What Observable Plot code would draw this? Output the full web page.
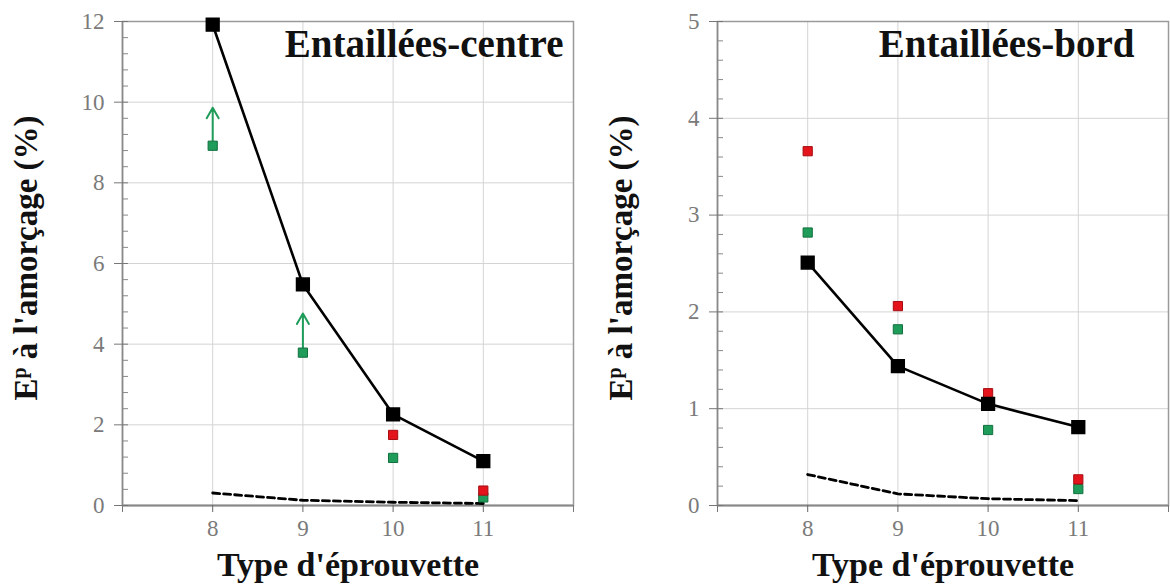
<!DOCTYPE html>
<html><head><meta charset="utf-8">
<script src="https://cdn.jsdelivr.net/npm/d3@7"></script>
<script src="https://cdn.jsdelivr.net/npm/@observablehq/plot@0.6"></script>
<style>
body{margin:0;background:#fff;}
#wrap{display:flex;width:1170px;height:586px;overflow:hidden;}
#wrap svg text{font-family:'Liberation Serif','Times New Roman',serif !important;}
</style></head><body><div id="wrap"></div>
<script>
// Type d'éprouvette (x categories)
const types = [8, 9, 10, 11];
// Entaillées-centre panel
const centreBlack  = [11.92, 5.48, 2.26, 1.10];
const centreRed    = [null, null, 1.75, 0.37];
const centreGreen  = [8.92, 3.79, 1.18, 0.20];
const centreArrow  = [9.86, 4.76, null, null];
const centreDashed = [0.31, 0.13, 0.08, 0.05];
const centreYTicks = [0, 2, 4, 6, 8, 10, 12];
// Entaillées-bord panel
const bordBlack  = [2.51, 1.44, 1.05, 0.81];
const bordRed    = [3.66, 2.06, 1.16, 0.27];
const bordGreen  = [2.82, 1.82, 0.78, 0.17];
const bordDashed = [0.32, 0.12, 0.07, 0.05];
const bordYTicks = [0, 1, 2, 3, 4, 5];
// texts
const titles = ["Entaillées-centre", "Entaillées-bord"];
const xTitle = "Type d'éprouvette";
const yTitleMain = "E", yTitleSup = "p", yTitleRest = " à l'amorçage (%)";

const SERIF = "'Liberation Serif', 'Times New Roman', serif";
const RED = "#e3141c", RED_D = "#a80d12";
const GREEN = "#1f9b5a", GREEN_D = "#12703e";
const fmt = d => `${d}`;

function panel(o) {
  const rows = arr => types.map((t, i) => ({x: t, y: arr[i]})).filter(d => d.y != null);
  const arrows = o.arrow ? types.map((t, i) => ({x: t, y1: o.green[i], y2: o.arrow[i]})).filter(d => d.y2 != null) : [];
  const step = o.yTicks[1] - o.yTicks[0];
  const minor = d3.range(0, o.yTicks[o.yTicks.length - 1] + 1e-9, step / 5)
    .filter(v => Math.abs(v / step - Math.round(v / step)) > 1e-6);
  const yMax = o.yTicks[o.yTicks.length - 1];
  const svg = Plot.plot({
    width: o.width, height: 586,
    marginTop: 21, marginBottom: 81, marginLeft: o.marginLeft, marginRight: o.marginRight,
    style: {fontFamily: SERIF, background: "white", overflow: "visible"},
    x: {domain: [7, 12]},
    y: {domain: [0, yMax]},
    marks: [
      Plot.gridX(types, {stroke: "#d4d4d4", strokeOpacity: 1}),
      Plot.gridY(o.yTicks, {stroke: "#d4d4d4", strokeOpacity: 1}),
      Plot.frame({stroke: "#9a9a9a", strokeWidth: 1.5}),
      Plot.ruleX([7], {stroke: "#888", strokeWidth: 1.5}),
      Plot.ruleY([0], {stroke: "#888", strokeWidth: 2.2}),
      Plot.axisY({ticks: o.yTicks, tickFormat: fmt, tickSize: 8, tickPadding: 10, fontSize: 23, fill: "#7a7a7a", stroke: "#777", label: null}),
      Plot.axisY({ticks: o.yTicks, tickSize: -6, fill: "none", stroke: "#777", label: null}),
      Plot.axisY({ticks: minor, tickSize: -6, fill: "none", stroke: "#888", label: null}),
      Plot.axisX({ticks: types, tickFormat: fmt, tickSize: 7, tickPadding: 7, fontSize: 23, fill: "#7a7a7a", stroke: "#666", label: null}),
      Plot.axisX({ticks: [7, 12], tickSize: 7, fill: "none", stroke: "#777", label: null}),
      Plot.text([xTitle], {frameAnchor: "bottom", dy: 70, fontSize: 34, fontWeight: "bold", fill: "#111"}),
      Plot.text([o.title], {frameAnchor: "top-right", dx: o.titleDx, dy: 8, fontSize: 39, fontWeight: "bold", fill: "#111"}),
      Plot.line(rows(o.dashed), {x: "x", y: "y", stroke: "black", strokeWidth: 2.8, strokeDasharray: "7,4"}),
      Plot.arrow(arrows, {x1: "x", x2: "x", y1: "y1", y2: "y2", stroke: GREEN, strokeWidth: 2, headLength: 9, insetStart: 5}),
      Plot.dot(rows(o.green), {x: "x", y: "y", symbol: "square", r: 5.2, fill: GREEN, stroke: GREEN_D, strokeWidth: 1}),
      Plot.dot(rows(o.red), {x: "x", y: "y", symbol: "square", r: 5.2, fill: RED, stroke: RED_D, strokeWidth: 1}),
      Plot.line(rows(o.black), {x: "x", y: "y", stroke: "black", strokeWidth: 2.6}),
      Plot.dot(rows(o.black), {x: "x", y: "y", symbol: "square", r: 7.2, fill: "black", stroke: "black"})
    ]
  });
  // y-axis title with superscript p
  const t = d3.select(svg).append("text")
    .attr("transform", `translate(${o.marginLeft - 85},258) rotate(-90)`)
    .attr("text-anchor", "middle")
    .attr("font-weight", "bold").attr("font-size", 33).attr("fill", "#111");
  t.append("tspan").text(yTitleMain);
  t.append("tspan").attr("font-size", 20).attr("dy", "-0.55em").text(yTitleSup);
  t.append("tspan").attr("dy", "0.34em").text(yTitleRest);
  d3.select(svg).selectAll("text").style("font-family", SERIF);
  return svg;
}

const wrap = document.getElementById("wrap");
wrap.append(panel({width: 585, marginLeft: 122, marginRight: 12, title: titles[0], titleDx: -10,
  black: centreBlack, red: centreRed, green: centreGreen, arrow: centreArrow, dashed: centreDashed, yTicks: centreYTicks}));
wrap.append(panel({width: 585, marginLeft: 132, marginRight: 2, title: titles[1], titleDx: -34,
  black: bordBlack, red: bordRed, green: bordGreen, arrow: null, dashed: bordDashed, yTicks: bordYTicks}));
</script></body></html>
